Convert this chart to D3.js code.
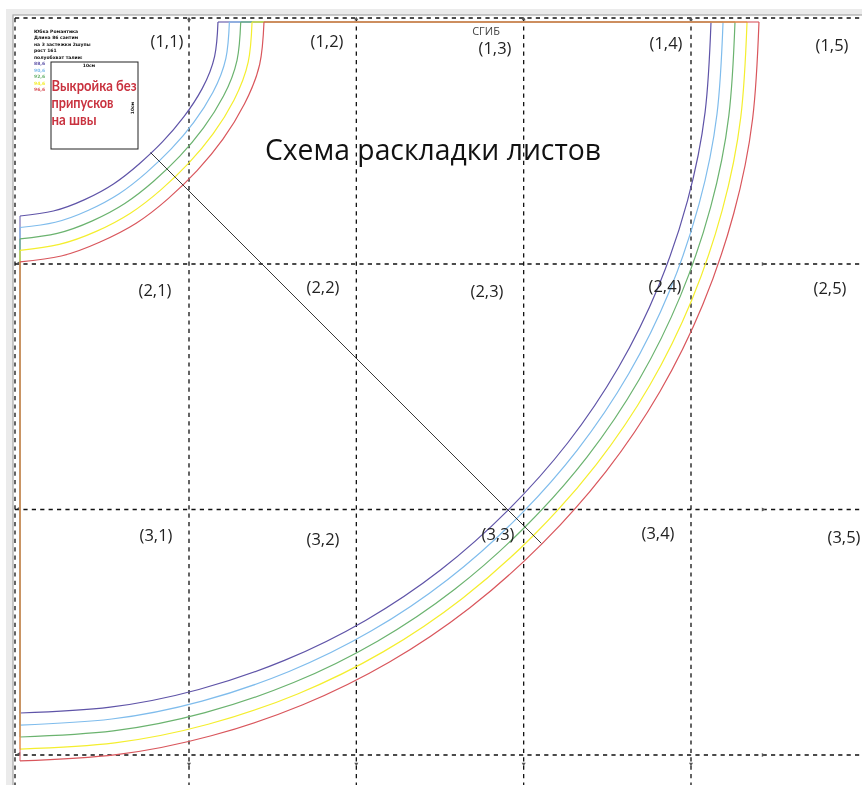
<!DOCTYPE html>
<html>
<head>
<meta charset="utf-8">
<script src="https://d3js.org/d3.v7.min.js"></script>
<style>
  html, body { margin: 0; padding: 0; background: #fff; }
  svg { display: block; filter: blur(0.35px); }
</style>
</head>
<body>
<svg id="chart" width="862" height="785"></svg>
<script>
// sizes of the pattern, inner to outer line
const sizeNames = ['88,6', '90,6', '92,6', '94,6', '96,6'];
const sizeColors = ['#5f54a8', '#7fbcec', '#6bb36f', '#f4ee2e', '#d9565c'];

// waist curve: radius in cm for each angle, measured from the fold corner
const waistAngles = [0, 10, 20, 30, 40, 50, 60, 70, 80, 90];
const waistRadius = [
  [22.37, 22.33, 21.92, 21.39, 21.04, 20.94, 21.13, 21.36, 21.69, 21.92],
  [23.66, 23.62, 23.2, 22.67, 22.31, 22.22, 22.41, 22.64, 22.98, 23.22],
  [24.94, 24.9, 24.47, 23.94, 23.58, 23.49, 23.68, 23.91, 24.25, 24.5],
  [26.22, 26.18, 25.74, 25.21, 24.85, 24.76, 24.95, 25.18, 25.52, 25.8],
  [27.57, 27.5, 27.0, 26.48, 26.12, 26.05, 26.25, 26.45, 26.85, 27.1]
];

// hem curve
const hemAngles = [0, 7.5, 15, 22.5, 30, 37.5, 45, 52.5, 60, 67.5, 75, 82.5, 90];
const hemRadius = [
  [78.08, 78.08, 78.08, 78.08, 78.08, 78.05, 78.0, 78.05, 78.08, 78.08, 78.08, 78.08, 78.08],
  [79.44, 79.44, 79.44, 79.44, 79.44, 79.4, 79.35, 79.4, 79.44, 79.44, 79.44, 79.44, 79.44],
  [80.79, 80.79, 80.79, 80.79, 80.79, 80.75, 80.7, 80.75, 80.79, 80.79, 80.79, 80.79, 80.79],
  [82.15, 82.15, 82.15, 82.15, 82.15, 82.1, 82.05, 82.1, 82.15, 82.15, 82.15, 82.15, 82.15],
  [83.5, 83.5, 83.5, 83.5, 83.5, 83.45, 83.4, 83.45, 83.5, 83.5, 83.5, 83.5, 83.5]
];

// bias line, start and end radius at 45 degrees
const biasRadius = [20.86, 83.3];

const sheetRows = [1, 2, 3];
const sheetCols = [1, 2, 3, 4, 5];

const infoLines = ['Юбка Романтика', 'Длина 86 сантим', 'на 3 застежки 2шупы', 'рост 161', 'полуобхват талии:'];
const noteLines = ['Выкройка без', 'припусков', 'на швы'];

// where the labels sit on the sheets
const labelX = [[167, 327, 495, 666, 832], [155, 323, 487, 665, 830], [156, 323, 498, 658, 844]];
const labelY = [[43, 43, 50, 45, 47], [292, 289, 293, 288, 290], [537, 541, 536, 535, 539]];
const noteWidth = [85, 62, 45];

const width = 862, height = 785;
const svg = d3.select('#chart');

// 1 cm on the pattern = 8.85 px, corner of the fold at (20,22)
const x = d3.scaleLinear().domain([0, 100]).range([20, 905]);
const y = d3.scaleLinear().domain([0, 100]).range([22, 907]);
const r = d3.scaleLinear().domain([0, 100]).range([0, 885]);
const colX = d3.scaleLinear().domain([1, 4]).range([189, 691]);
const rowY = d3.scaleLinear().domain([1, 3]).range([264, 755]);

// window around the picture
svg.append('rect').attr('x', 6).attr('y', 9).attr('width', width).attr('height', height).attr('fill', '#ebebeb');
svg.append('rect').attr('x', 13).attr('y', 15).attr('width', width + 10).attr('height', height)
  .attr('fill', '#fff').attr('stroke', '#a8a8a8').attr('stroke-width', 1.2);

// sheet cuts
const dash = g => g.attr('stroke', '#111').attr('stroke-width', 1.3).attr('stroke-dasharray', '4.2 4.2').attr('fill', 'none');
const grid = svg.append('g');
grid.selectAll('.vcut').data(d3.range(1, 5)).enter().append('line')
  .attr('x1', d => colX(d)).attr('x2', d => colX(d)).attr('y1', 18).attr('y2', height).call(dash);
grid.selectAll('.hcut').data(d3.range(1, 4)).enter().append('line')
  .attr('y1', d => rowY(d)).attr('y2', d => rowY(d)).attr('x1', 15).attr('x2', width).call(dash);
grid.append('line').attr('x1', 15).attr('x2', width).attr('y1', 18).attr('y2', 18).call(dash);
grid.append('line').attr('x1', 15).attr('x2', 15).attr('y1', 18).attr('y2', height).call(dash);

// small marks on the cuts
const tri = d3.symbol().type(d3.symbolTriangle).size(7);
grid.selectAll('.top').data(d3.range(1, 5)).enter().append('path').attr('d', tri).attr('fill', '#555')
  .attr('transform', d => `translate(${colX(d)},19)`);
grid.selectAll('.bot').data(d3.range(1, 5)).enter().append('path').attr('d', tri).attr('fill', '#555')
  .attr('transform', d => `translate(${colX(d)},764) rotate(180)`);
grid.selectAll('.right').data(d3.range(1, 4)).enter().append('path').attr('d', tri).attr('fill', '#555')
  .attr('transform', d => `translate(763,${rowY(d)}) rotate(90)`);
grid.selectAll('.left').data(d3.range(1, 4)).enter().append('path').attr('d', tri).attr('fill', '#555')
  .attr('transform', d => `translate(19,${rowY(d) - 1}) rotate(-90)`);

// pattern lines
const deg = Math.PI / 180;
const radial = d3.lineRadial().curve(d3.curveNatural);
const polar = (a, rad) => [x(0) + r(rad) * Math.cos(a * deg), y(0) + r(rad) * Math.sin(a * deg)];
const straight = d3.line();

const pattern = svg.append('g').attr('fill', 'none');
sizeColors.forEach((color, i) => {
  const waist = waistAngles.map((a, k) => [(a + 90) * deg, r(waistRadius[i][k])]);
  const hem = hemAngles.map((a, k) => [(a + 90) * deg, r(hemRadius[i][k])]);
  const g = pattern.append('g').attr('stroke', color).attr('stroke-width', 1.2);
  g.append('path').attr('d', radial(waist)).attr('transform', `translate(${x(0)},${y(0)})`);
  g.append('path').attr('d', radial(hem)).attr('transform', `translate(${x(0)},${y(0)})`);
  // fold edges overlap and turn brown
  g.append('path').attr('stroke-opacity', 0.55).attr('stroke-width', 1.8)
    .attr('d', straight([polar(0, waistRadius[i][0]), polar(0, hemRadius[i][0])]));
  g.append('path').attr('stroke-opacity', 0.55).attr('stroke-width', 1.8)
    .attr('d', straight([polar(90, waistRadius[i][waistAngles.length - 1]), polar(90, hemRadius[i][hemAngles.length - 1])]));
});

// bias line across the skirt
pattern.append('path').attr('stroke', '#222').attr('stroke-width', 0.9)
  .attr('d', straight(biasRadius.map(d => polar(45, d))));

// info block in the corner
const info = svg.append('g').attr('font-family', '"DejaVu Sans", sans-serif').attr('font-size', 4.5)
  .attr('font-weight', 'bold').attr('fill', '#111');
info.selectAll('text').data(infoLines).enter().append('text')
  .attr('x', 34).attr('y', (d, i) => [33, 39, 46, 52, 59][i]).text(d => d);
info.selectAll('.size').data(sizeNames).enter().append('text')
  .attr('x', 34).attr('y', (d, i) => 65 + i * 6.5)
  .attr('fill', (d, i) => sizeColors[i]).text(d => d);

svg.append('rect').attr('x', 51).attr('y', 62).attr('width', 87).attr('height', 87)
  .attr('fill', 'none').attr('stroke', '#222').attr('stroke-width', 1);
svg.append('text').attr('x', 89).attr('y', 67).attr('text-anchor', 'middle')
  .attr('font-family', '"DejaVu Sans", sans-serif').attr('font-size', 4.4).attr('font-weight', 'bold').attr('fill', '#111').text('10см');
svg.append('text').attr('transform', 'translate(134,108) rotate(-90)').attr('text-anchor', 'middle')
  .attr('font-family', '"DejaVu Sans", sans-serif').attr('font-size', 4.4).attr('font-weight', 'bold').attr('fill', '#111').text('10см');

svg.append('g').attr('font-family', 'Lato, sans-serif').attr('font-weight', 'bold').attr('font-size', 15.5).attr('fill', '#c9323f')
  .selectAll('text').data(noteLines).enter().append('text')
  .attr('x', 51.5).attr('y', (d, i) => 91 + i * 17.2)
  .attr('textLength', (d, i) => noteWidth[i]).attr('lengthAdjust', 'spacingAndGlyphs').text(d => d);

// labels
svg.append('text').attr('x', 433).attr('y', 160).attr('text-anchor', 'middle')
  .attr('font-family', '"Open Sans", sans-serif').attr('font-size', 28.3).attr('fill', '#111').text('Схема раскладки листов');
svg.append('text').attr('x', 486).attr('y', 35).attr('text-anchor', 'middle')
  .attr('font-family', '"Open Sans", sans-serif').attr('font-size', 11).attr('fill', '#444').text('СГИБ');

const labels = svg.append('g').attr('font-family', '"Open Sans", sans-serif').attr('font-size', 16.5)
  .attr('fill', '#222').attr('text-anchor', 'middle').attr('dominant-baseline', 'middle');
sheetRows.forEach((row, ri) => {
  sheetCols.forEach((col, ci) => {
    labels.append('text').attr('x', labelX[ri][ci]).attr('y', labelY[ri][ci]).text(`(${row},${col})`);
  });
});
</script>
</body>
</html>
